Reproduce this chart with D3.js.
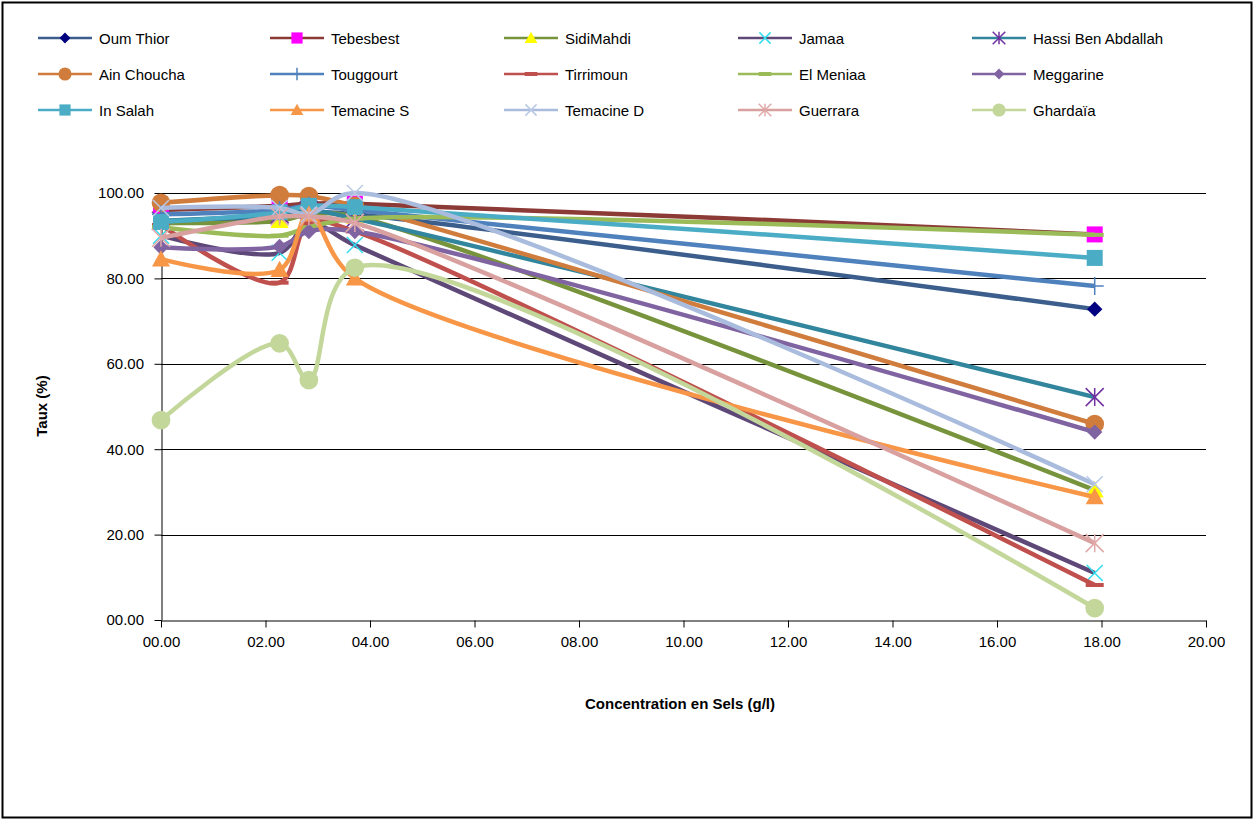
<!DOCTYPE html>
<meta charset="utf-8">
<style>
    body { margin: 0; background: #fff; }
    text { font-family: "Liberation Sans", Arial, sans-serif; }
    .tick text { font-size: 15px; fill: #000; }
    .title { font-size: 15px; font-weight: bold; }
</style>
<body>
<script src="https://cdn.jsdelivr.net/npm/d3@7"></script>
<script>
    // concentration (g/l) where every station was measured
    const concentrations = [0, 2.27, 2.83, 3.71, 17.87];

    const stations = ["Oum Thior", "Tebesbest", "SidiMahdi", "Jamaa", "Hassi Ben Abdallah",
        "Ain Choucha", "Touggourt", "Tirrimoun", "El Meniaa", "Meggarine",
        "In Salah", "Temacine S", "Temacine D", "Guerrara", "Ghardaïa"];

    // taux (%) per station, same order as concentrations
    const oumThior   = [93.0, 94.0, 95.5, 95.0, 72.8];
    const tebesbest  = [96.0, 97.0, 97.5, 97.5, 90.3];
    const sidiMahdi  = [93.0, 93.5, 95.0, 94.5, 30.4];
    const jamaa      = [90.0, 86.0, 93.0, 87.8, 11.0];
    const hassiBA    = [93.5, 95.0, 96.0, 94.0, 52.2];
    const ainChoucha = [97.7, 99.5, 99.3, 97.0, 45.9];
    const touggourt  = [95.0, 96.0, 97.0, 96.0, 78.2];
    const tirrimoun  = [92.5, 79.0, 93.0, 91.0, 8.2];
    const elMeniaa   = [92.0, 90.0, 92.0, 94.0, 90.2];
    const meggarine  = [87.3, 87.5, 91.0, 91.0, 44.0];
    const inSalah    = [93.2, 95.5, 97.0, 96.7, 84.8];
    const temacineS  = [84.5, 82.0, 95.0, 80.0, 28.8];
    const temacineD  = [96.5, 96.5, 95.0, 100.0, 31.8];
    const guerrara   = [89.5, 94.5, 94.5, 93.0, 18.0];
    const ghardaia   = [46.8, 64.8, 56.2, 82.5, 2.8];

    const values = [oumThior, tebesbest, sidiMahdi, jamaa, hassiBA, ainChoucha, touggourt,
        tirrimoun, elMeniaa, meggarine, inSalah, temacineS, temacineD, guerrara, ghardaia];

    const xTicks = [0, 2, 4, 6, 8, 10, 12, 14, 16, 18, 20];
    const yTicks = [0, 20, 40, 60, 80, 100];

    // line colour, marker type, marker colour
    const lineColors = ["#3B5E8C", "#8C3A36", "#77933C", "#5E4878", "#31859C",
        "#D07C3C", "#4F81BD", "#C0504D", "#9BBB59", "#8064A2",
        "#4BACC6", "#F79646", "#A9BCDD", "#D9A0A0", "#C4D79B"];
    const markerTypes = ["diamond", "square", "triangle", "x", "star",
        "circle", "plus", "dash", "dash", "diamond",
        "square", "triangle", "x", "star", "circle"];
    const markerColors = ["#000080", "#FF00FF", "#FFFF00", "#33DDEE", "#7030A0",
        "#D07C3C", "#4F81BD", "#C0504D", "#9BBB59", "#8064A2",
        "#4BACC6", "#F79646", "#B9C9E6", "#E0A8A8", "#C4D79B"];

    const W = 1255, H = 820;
    const svg = d3.select("body").append("svg").attr("width", W).attr("height", H);

    svg.append("rect").attr("x", 2.5).attr("y", 2.5).attr("width", W - 6).attr("height", H - 5)
        .attr("fill", "none").attr("stroke", "#000").attr("stroke-width", 2);

    const plot = {left: 161, right: 1206, top: 193, bottom: 620};
    const x = d3.scaleLinear().domain([0, 20]).range([plot.left, plot.right]);
    const y = d3.scaleLinear().domain([0, 100]).range([plot.bottom, plot.top]);
    const fmt = d3.format("05.2f");

    // grid
    svg.append("g").selectAll("line").data(yTicks.slice(1)).join("line")
        .attr("x1", plot.left).attr("x2", plot.right)
        .attr("y1", d => Math.round(y(d)) + 0.5).attr("y2", d => Math.round(y(d)) + 0.5)
        .attr("stroke", "#000");

    const xAxis = svg.append("g").attr("transform", `translate(0,${plot.bottom + 0.5})`)
        .call(d3.axisBottom(x).tickValues(xTicks).tickFormat(fmt).tickSize(7).tickSizeOuter(0));
    xAxis.selectAll("text").attr("dy", "1.1em");
    const yAxis = svg.append("g").attr("transform", `translate(${plot.left + 0.5},0)`)
        .call(d3.axisLeft(y).tickValues(yTicks).tickFormat(fmt).tickSize(7).tickSizeOuter(0));
    yAxis.selectAll("text").attr("dx", "-0.5em");
    svg.selectAll(".domain, .tick line").attr("stroke", "#000");

    svg.append("text").attr("class", "title").attr("x", 680).attr("y", 709)
        .attr("text-anchor", "middle").text("Concentration en Sels (g/l)");
    svg.append("text").attr("class", "title")
        .attr("transform", "translate(47,406) rotate(-90)")
        .attr("text-anchor", "middle").text("Taux (%)");

    // smoothed like the excel chart
    const line = d3.line().curve(d3.curveCatmullRom.alpha(0.5))
        .x(d => x(d[0])).y(d => y(d[1]));

    function marker(g, type, color, cx, cy, s) {
        if (type === "circle") {
            g.append("circle").attr("cx", cx).attr("cy", cy).attr("r", s * 0.55).attr("fill", color);
        } else if (type === "square") {
            g.append("rect").attr("x", cx - s / 2).attr("y", cy - s / 2).attr("width", s).attr("height", s).attr("fill", color);
        } else if (type === "diamond") {
            const r = s * 0.55;
            g.append("path").attr("d", `M${cx},${cy - r}L${cx + r},${cy}L${cx},${cy + r}L${cx - r},${cy}Z`).attr("fill", color);
        } else if (type === "triangle") {
            const r = s * 0.6;
            g.append("path").attr("d", `M${cx},${cy - r}L${cx + r},${cy + r * 0.8}L${cx - r},${cy + r * 0.8}Z`).attr("fill", color);
        } else if (type === "x" || type === "star") {
            const r = s * 0.5;
            let d = `M${cx - r},${cy - r}L${cx + r},${cy + r}M${cx - r},${cy + r}L${cx + r},${cy - r}`;
            if (type === "star") d += `M${cx},${cy - r}L${cx},${cy + r}`;
            g.append("path").attr("d", d).attr("stroke", color).attr("stroke-width", 1.5).attr("fill", "none");
        } else if (type === "plus") {
            const r = s * 0.5;
            g.append("path").attr("d", `M${cx - r},${cy}L${cx + r},${cy}M${cx},${cy - r}L${cx},${cy + r}`)
                .attr("stroke", color).attr("stroke-width", 1.5);
        } else if (type === "dash") {
            const r = s * 0.5;
            g.append("rect").attr("x", cx - r).attr("y", cy - 2).attr("width", 2 * r).attr("height", 4).attr("fill", color);
        }
    }

    const series = stations.map((name, i) => ({
        name, i, pts: concentrations.map((c, j) => [c, values[i][j]])
    }));

    const sizes = {circle: 17, square: 16, triangle: 15, diamond: 14, x: 16, star: 18, plus: 18, dash: 18};

    const gLines = svg.append("g");
    series.forEach(s => {
        const g = gLines.append("g");
        g.append("path").attr("d", line(s.pts)).attr("fill", "none")
            .attr("stroke", lineColors[s.i]).attr("stroke-width", 4.5).attr("stroke-linejoin", "round");
        s.pts.forEach(p => marker(g, markerTypes[s.i], markerColors[s.i], x(p[0]), y(p[1]), sizes[markerTypes[s.i]]));
    });

    // legend
    const legend = svg.append("g");
    const colX = [38, 270, 504, 738, 972];
    const rowY = [38, 74, 110];
    series.forEach(s => {
        const lx = colX[s.i % 5], ly = rowY[Math.floor(s.i / 5)];
        const g = legend.append("g");
        g.append("line").attr("x1", lx).attr("x2", lx + 54).attr("y1", ly).attr("y2", ly)
            .attr("stroke", lineColors[s.i]).attr("stroke-width", 2.5);
        marker(g, markerTypes[s.i], markerColors[s.i], lx + 27, ly, sizes[markerTypes[s.i]] * 0.7);
        g.append("text").attr("x", lx + 61).attr("y", ly + 5.5).style("font-size", "15px").text(s.name);
    });
</script>
</body>
</html>
